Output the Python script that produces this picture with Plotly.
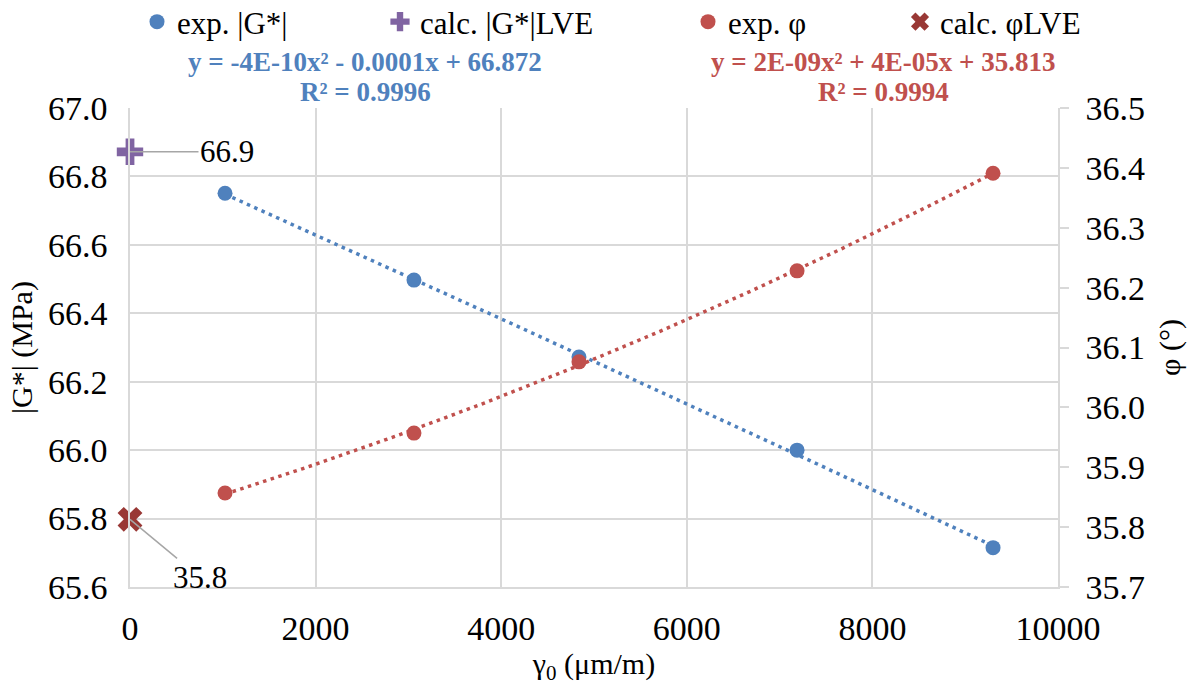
import numpy as np
import plotly.graph_objects as go

# ---- data ----
strain = [1024, 3060, 4838, 7188, 9300]            # γ0 (µm/m)
g_exp = [66.751, 66.497, 66.272, 66.000, 65.715]    # |G*| (MPa)
phi_exp = [35.857, 35.957, 36.076, 36.228, 36.391]  # φ (°)
lve_x = [0]
g_lve = [66.872]
phi_lve = [35.813]
g_label = ["66.9"]
phi_label = ["35.8"]
g_eq = ["y = -4E-10x² - 0.0001x + 66.872", "R² = 0.9996"]
phi_eq = ["y = 2E-09x² + 4E-05x + 35.813", "R² = 0.9994"]
x_ticks = [0, 2000, 4000, 6000, 8000, 10000]

BLUE = "#4F81BD"
RED = "#C0504D"
PURPLE = "#8064A2"
DARKRED = "#993835"
GRID = "#D9D9D9"
FONT = "Times New Roman, Liberation Serif, serif"

# quadratic trendlines (as the spreadsheet did), fitted to the measured points
xs = np.linspace(min(strain), max(strain), 200)
g_fit = np.polyval(np.polyfit(strain, g_exp, 2), xs)
phi_fit = np.polyval(np.polyfit(strain, phi_exp, 2), xs)

fig = go.Figure()
fig.add_trace(go.Scatter(x=xs, y=g_fit, mode="lines", showlegend=False,
                         line=dict(color=BLUE, width=3.5, dash="3.5px,4.5px"), hoverinfo="skip"))
fig.add_trace(go.Scatter(x=xs, y=phi_fit, mode="lines", showlegend=False, yaxis="y2",
                         line=dict(color=RED, width=3.5, dash="3.5px,4.5px"), hoverinfo="skip"))

fig.add_trace(go.Scatter(x=strain, y=g_exp, mode="markers", name="exp. |G*|",
                         marker=dict(color=BLUE, size=15, symbol="circle"), legend="legend"))
fig.add_trace(go.Scatter(x=lve_x, y=g_lve, mode="markers", name="calc. |G*|LVE", cliponaxis=False,
                         marker=dict(color=PURPLE, size=22, symbol="cross"), legend="legend2"))
fig.add_trace(go.Scatter(x=strain, y=phi_exp, mode="markers", name="exp. φ", yaxis="y2",
                         marker=dict(color=RED, size=15, symbol="circle"), legend="legend3"))
fig.add_trace(go.Scatter(x=lve_x, y=phi_lve, mode="markers", name="calc. φLVE", yaxis="y2", cliponaxis=False,
                         marker=dict(color=DARKRED, size=22, symbol="x"), legend="legend4"))

W, H = 1196, 686
L, T = 130, 108
R = W - 1058
B = H - 587
pw, ph = W - L - R, H - T - B

def px(xs_):
    return (xs_ - L) / pw

def py(ys_):
    return (H - B - ys_) / ph

leg_font = dict(family=FONT, size=31, color="black")
legend_common = dict(orientation="h", yanchor="middle", y=py(22), xanchor="left",
                     font=leg_font, bgcolor="rgba(0,0,0,0)", borderwidth=0, itemwidth=30)

annots = []
for txt, yy in zip(g_eq, [62, 92]):
    annots.append(dict(text="<b>" + txt + "</b>", xref="paper", yref="paper", x=px(365), y=py(yy),
                       xanchor="center", yanchor="middle", showarrow=False,
                       font=dict(family=FONT, size=27, color=BLUE)))
for txt, yy in zip(phi_eq, [62, 92]):
    annots.append(dict(text="<b>" + txt + "</b>", xref="paper", yref="paper", x=px(883), y=py(yy),
                       xanchor="center", yanchor="middle", showarrow=False,
                       font=dict(family=FONT, size=27, color=RED)))
annots.append(dict(text=g_label[0], x=lve_x[0], y=g_lve[0], xref="x", yref="y",
                   showarrow=True, arrowhead=0, arrowwidth=1.5, arrowcolor="#A6A6A6",
                   ax=97, ay=0, font=dict(family=FONT, size=31, color="black")))
annots.append(dict(text=phi_label[0], x=lve_x[0], y=phi_lve[0], xref="x", yref="y2",
                   showarrow=True, arrowhead=0, arrowwidth=1.5, arrowcolor="#A6A6A6",
                   ax=70, ay=58, font=dict(family=FONT, size=31, color="black")))

tick_font = dict(family=FONT, size=34, color="black")
title_font = dict(family=FONT, size=30, color="black")
fig.update_layout(
    width=W, height=H,
    margin=dict(l=L, r=R, t=T, b=B, autoexpand=False),
    paper_bgcolor="white", plot_bgcolor="white",
    font=dict(family=FONT, color="black"),
    legend=dict(legend_common, x=px(137)),
    legend2=dict(legend_common, x=px(380)),
    legend3=dict(legend_common, x=px(688)),
    legend4=dict(legend_common, x=px(900)),
    xaxis=dict(range=[0, 10000], tickvals=x_ticks, tickformat="d", showgrid=True, gridcolor=GRID,
               gridwidth=1.5, showline=True, linecolor=GRID, linewidth=1.5, zeroline=False, ticks="",
               tickfont=tick_font, ticklabelstandoff=10,
               title=dict(text="γ<sub>0</sub> (μm/m)", font=title_font, standoff=4)),
    yaxis=dict(range=[65.6, 67.0], dtick=0.2, tickformat=".1f", showgrid=True, gridcolor=GRID,
               gridwidth=1.5, showline=True, linecolor=GRID, linewidth=1.5, zeroline=False, ticks="",
               tickfont=tick_font, ticklabelstandoff=14,
               title=dict(text="|G*| (MPa)", font=title_font, standoff=6)),
    yaxis2=dict(range=[35.7, 36.5], dtick=0.1, tickformat=".1f", overlaying="y", side="right",
                showgrid=False, showline=True, linecolor=GRID, linewidth=1.5, zeroline=False,
                ticks="outside", ticklen=9, tickwidth=1.5, tickcolor=GRID,
                tickfont=tick_font, ticklabelstandoff=10,
                title=dict(text="φ (°)", font=title_font, standoff=15)),
    annotations=annots,
)

fig.write_html("out.html", config={"displayModeBar": False},
               post_script="document.body.style.margin='0';")
